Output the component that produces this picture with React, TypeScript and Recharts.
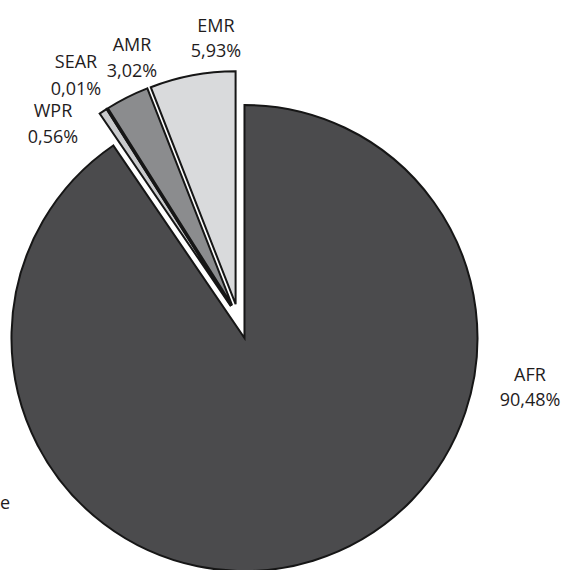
import { PieChart, Pie, Cell, Sector } from 'recharts';

// share of cases per WHO region (%)
const regions = ['AFR', 'WPR', 'SEAR', 'AMR', 'EMR'];
const shares = [90.48, 0.56, 0.01, 3.02, 5.93];
const colors = ['#4b4b4d', '#c9cacc', '#a6a7a9', '#8b8c8e', '#d9dadc'];

// how far each slice is pulled out of the pie
const explode: Record<string, number> = { AFR: 22, WPR: 13, SEAR: 13, AMR: 13, EMR: 13 };

// label anchors: centre x, baseline of name line, baseline of value line
const labelPos: Record<string, [number, number, number]> = {
  AFR: [530, 381, 406],
  EMR: [216, 32, 57],
  AMR: [132, 51, 77],
  SEAR: [76, 68, 95],
  WPR: [53, 117, 143],
};

const data = regions.map((name, i) => ({ name, value: shares[i] }));

const FONT = '"Open Sans", sans-serif';
const RAD = Math.PI / 180;

const ExplodedSector = (props: any) => {
  const name = props.payload?.name ?? props.name;
  const d = explode[name] ?? 0;
  const a = -props.midAngle * RAD;
  return (
    <Sector
      {...props}
      cx={props.cx + d * Math.cos(a)}
      cy={props.cy + d * Math.sin(a)}
    />
  );
};

const renderLabel = (props: any) => {
  const name = props.payload?.name ?? props.name;
  const pos = labelPos[name];
  if (!pos) return null;
  const pct = Number(props.value).toFixed(2).replace('.', ',') + '%';
  return (
    <g>
      <text x={pos[0]} y={pos[1]} textAnchor="middle" fill="#1f1c1d" fontSize={18} fontFamily={FONT}>
        {name}
      </text>
      <text x={pos[0]} y={pos[2]} textAnchor="middle" fill="#1f1c1d" fontSize={18} fontFamily={FONT}>
        {pct}
      </text>
    </g>
  );
};

export default function App() {
  return (
    <div style={{ position: 'absolute', left: 0, top: 0, width: 563, height: 570, background: '#fff' }}>
      <PieChart width={563} height={570} margin={{ top: 0, right: 0, bottom: 0, left: 0 }}>
        <Pie
          data={data}
          dataKey="value"
          nameKey="name"
          cx={238}
          cy={317}
          outerRadius={233}
          startAngle={90}
          endAngle={-270}
          stroke="#161616"
          strokeWidth={2}
          shape={ExplodedSector}
          activeShape={ExplodedSector}
          inactiveShape={ExplodedSector}
          label={renderLabel}
          labelLine={false}
          isAnimationActive={false}
        >
          {data.map((entry, i) => (
            <Cell key={entry.name} fill={colors[i]} />
          ))}
        </Pie>
      </PieChart>
      <div
        style={{
          position: 'absolute',
          left: 0,
          top: 490,
          fontFamily: FONT,
          fontSize: 18,
          lineHeight: '24px',
          color: '#1f1c1d',
        }}
      >
        e
      </div>
    </div>
  );
}
